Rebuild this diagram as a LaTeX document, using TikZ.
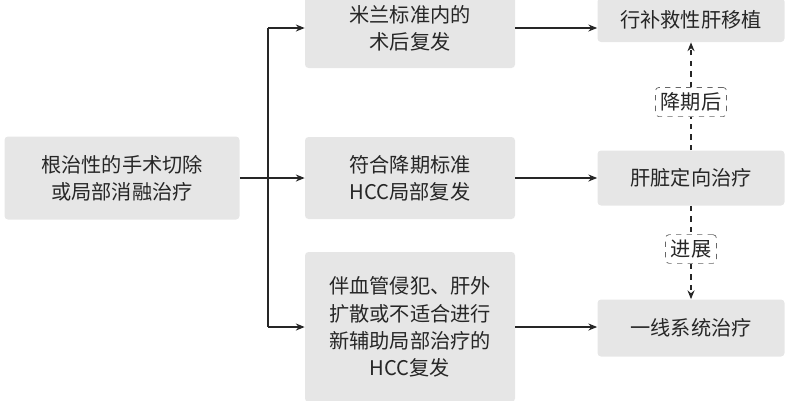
\documentclass[tikz,border=0pt]{standalone}
\usepackage{fontspec}
\setmainfont{Noto Sans CJK SC}
\usetikzlibrary{arrows.meta,positioning}
\definecolor{boxgray}{HTML}{E6E6E6}
\tikzset{
  box/.style={fill=boxgray,rounded corners=2pt,align=center,font=\fontsize{11.5}{15.5}\selectfont,text=black!85},
  tag/.style={draw=black!60,dashed,fill=white,rounded corners=2pt,font=\fontsize{11.5}{14}\selectfont,inner sep=3pt,text=black!85},
  link/.style={-{Stealth[length=5pt,width=4pt]},line width=0.8pt,black!85},
}
\begin{document}
\begin{tikzpicture}[x=0.02cm,y=-0.02cm]
  \useasboundingbox (0,0) rectangle (800,400);
  % left
  \node[box,minimum width=235*0.02cm,minimum height=83*0.02cm] (start) at (122,178) {根治性的手术切除\\或局部消融治疗};
  % middle column
  \node[box,minimum width=210*0.02cm,minimum height=80*0.02cm] (mila) at (410,28) {米兰标准内的\\术后复发};
  \node[box,minimum width=210*0.02cm,minimum height=82*0.02cm] (down) at (410,178) {符合降期标准\\HCC局部复发};
  \node[box,minimum width=210*0.02cm,minimum height=150*0.02cm] (vasc) at (410,327) {伴血管侵犯、肝外\\扩散或不适合进行\\新辅助局部治疗的\\HCC复发};
  % right column
  \node[box,minimum width=187*0.02cm,minimum height=44*0.02cm] (ltx) at (691,20) {行补救性肝移植};
  \node[box,minimum width=187*0.02cm,minimum height=55*0.02cm] (local) at (691,178) {肝脏定向治疗};
  \node[box,minimum width=187*0.02cm,minimum height=57*0.02cm] (sys) at (691,328) {一线系统治疗};
  \node[tag] (after) at (691,102) {降期后};
  \node[tag] (prog) at (691,249) {进展};
  % branches
  \coordinate (fork) at (268,178);
  \draw[line width=0.8pt,black!85] (start.east) -- (fork);
  \draw[line width=0.8pt,black!85] (fork|-mila) -- (fork|-vasc);
  \draw[link] (fork|-mila) -- (mila.west);
  \draw[link] (fork) -- (down.west);
  \draw[link] (fork|-vasc) -- (vasc.west);
  \draw[link] (mila.east) -- (ltx.west|-mila);
  \draw[link] (down.east) -- (local.west);
  \draw[link] (vasc.east) -- (sys.west|-vasc);
  % dashed links
  \draw[dashed,line width=0.8pt,black!85] (local.north) -- (after.south);
  \draw[link,dashed] (after.north) -- (ltx.south);
  \draw[dashed,line width=0.8pt,black!85] (local.south) -- (prog.north);
  \draw[link,dashed] (prog.south) -- (sys.north);
\end{tikzpicture}
\end{document}
